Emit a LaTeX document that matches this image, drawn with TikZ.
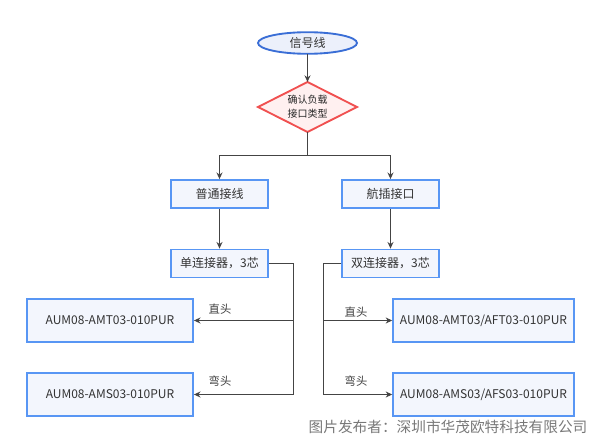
\documentclass[tikz,border=0pt]{standalone}
\usepackage{fontspec}
\setmainfont{Noto Sans CJK SC}
\usepackage{xcolor}
\usetikzlibrary{arrows.meta}

\definecolor{ovalline}{RGB}{58,110,214}
\definecolor{ovalfill}{RGB}{236,240,251}
\definecolor{diamline}{RGB}{240,80,80}
\definecolor{diamfill}{RGB}{255,240,240}
\definecolor{boxline}{RGB}{88,150,244}
\definecolor{boxfill}{RGB}{243,246,253}
\definecolor{wireline}{RGB}{68,68,68}
\definecolor{marktext}{RGB}{120,120,120}

\tikzset{
  wire/.style={draw=wireline, line width=0.9pt},
  arr/.style={wire, -{Stealth[length=5pt,width=4.5pt]}},
  stepbox/.style={draw=boxline, fill=boxfill, line width=1.3pt, inner sep=0pt, font=\fontsize{9}{11}\selectfont, text=black!80},
  pinlabel/.style={font=\fontsize{8.5}{10}\selectfont, text=black!75, inner sep=0pt}
}

\begin{document}
\begin{tikzpicture}[x=0.75pt,y=0.75pt,yscale=-1,xscale=1]
\useasboundingbox (0,0) rectangle (600,442);

%Shape: Ellipse
\draw [draw=ovalline, fill=ovalfill, line width=1.4pt] (307.5,43) ellipse (49.5 and 10.8);
\node (sig) [minimum width=75pt, minimum height=16pt, inner sep=0pt, font=\fontsize{9}{11}\selectfont, text=black!80] at (307.5,43) {信号线};

%Shape: Diamond
\draw [draw=diamline, fill=diamfill, line width=1.4pt] (307.5,82) -- (357,107) -- (307.5,132) -- (258,107) -- cycle ;
\node (chk) [minimum width=74pt, minimum height=37.5pt, inner sep=0pt, align=center, font=\fontsize{7.5}{10.5}\selectfont, text=black!85] at (307.5,107) {确认负载\\接口类型};

%Shape: Rectangles
\node (plain) [stepbox, minimum width=72.5pt, minimum height=21pt] at (219.5,194) {普通接线};
\node (avi) [stepbox, minimum width=72.5pt, minimum height=21pt] at (390.5,194) {航插接口};
\node (single) [stepbox, minimum width=72.5pt, minimum height=21pt] at (219.5,263.5) {单连接器，3芯};
\node (double) [stepbox, minimum width=72.5pt, minimum height=21pt] at (390.5,263.5) {双连接器，3芯};
\node (ltop) [stepbox, minimum width=124.5pt, minimum height=32pt] at (110,320.5) {AUM08-AMT03-010PUR};
\node (lbot) [stepbox, minimum width=124.5pt, minimum height=32pt] at (110,394.5) {AUM08-AMS03-010PUR};
\node (rtop) [stepbox, minimum width=135.5pt, minimum height=32pt] at (483.5,320.5) {AUM08-AMT03/AFT03-010PUR};
\node (rbot) [stepbox, minimum width=135.5pt, minimum height=32pt] at (483.5,394.5) {AUM08-AMS03/AFS03-010PUR};

%Straight Lines
\coordinate (split) at (307.5,155.5);
\coordinate (ljoin) at (293.5,320.5);
\coordinate (lend) at (293.5,394.5);
\coordinate (rjoin) at (323.5,320.5);
\coordinate (rend) at (323.5,394.5);

\draw [arr] (sig.south) -- (307.5,82);
\draw [wire] (chk.south) -- (split);
\draw [arr] (split) -| (plain.north);
\draw [arr] (split) -| (avi.north);
\draw [arr] (plain) -- (single);
\draw [arr] (avi) -- (double);
\draw [arr] (single.east) -| (lend) -- (lbot.east);
\draw [arr] (ljoin) -- (ltop.east);
\draw [arr] (double.west) -| (rend) -- (rbot.west);
\draw [arr] (rjoin) -- (rtop.west);

% Text Node
\node (lstraight) [pinlabel] at (220,309) {直头};
\node (lbent) [pinlabel] at (220,381) {弯头};
\node (rstraight) [pinlabel] at (356,312) {直头};
\node (rbent) [pinlabel] at (356,381) {弯头};
% Text Node
\node (mark) [inner sep=0pt, font=\fontsize{11}{13}\selectfont, text=marktext] at (448,427) {图片发布者：深圳市华茂欧特科技有限公司};

\end{tikzpicture}
\end{document}
